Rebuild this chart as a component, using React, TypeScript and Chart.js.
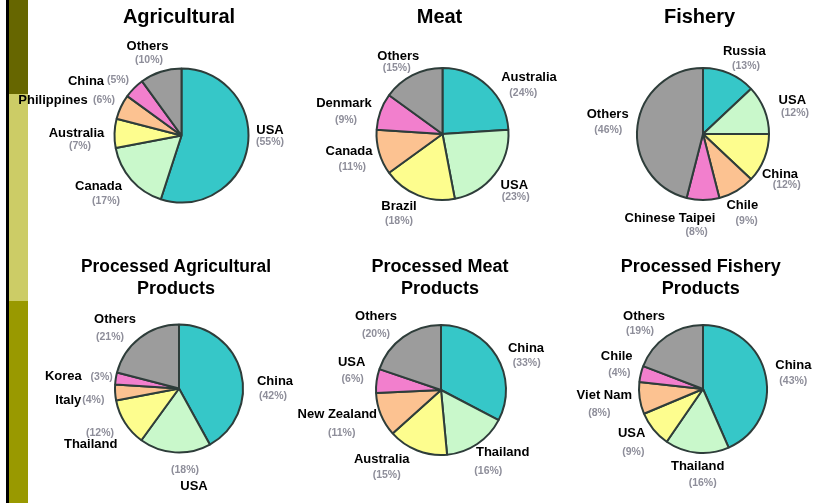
import React, { useEffect, useRef } from "react";
import { Chart, registerables } from "chart.js";

Chart.register(...registerables);

// ---------- data ----------
const agriCategories = ["USA", "Canada", "Australia", "Philippines", "China", "Others"];
const agriValues = [55, 17, 7, 6, 5, 10];

const meatCategories = ["Australia", "USA", "Brazil", "Canada", "Denmark", "Others"];
const meatValues = [24, 23, 18, 11, 9, 15];

const fisheryCategories = ["Russia", "USA", "China", "Chile", "Chinese Taipei", "Others"];
const fisheryValues = [13, 12, 12, 9, 8, 46];

const procAgriCategories = ["China", "USA", "Thailand", "Italy", "Korea", "Others"];
const procAgriValues = [42, 18, 12, 4, 3, 21];

const procMeatCategories = ["China", "Thailand", "Australia", "New Zealand", "USA", "Others"];
const procMeatValues = [33, 16, 15, 11, 6, 20];

const procFisheryCategories = ["China", "Thailand", "USA", "Viet Nam", "Chile", "Others"];
const procFisheryValues = [43, 16, 9, 8, 4, 19];

// ---------- styles / layout ----------
const W = 818;
const H = 503;
const SLICE_COLORS = ["#36c7c8", "#c9f8cb", "#fdfd8e", "#fcc291", "#f27fcd", "#9c9c9c"];
const BORDER = "#2e3d3a";
const FONT = "'Liberation Sans', Arial, sans-serif";

type Off = [number, number, number, number]; // name dx, dy, pct dx, dy (relative to pie centre)

interface Spec {
  title: string[];
  titleSize: number;
  titleX: number;
  titleY: number[];
  titleMaxW?: number;
  categories: string[];
  values: number[];
  cx: number;
  cy: number;
  r: number;
  labels: Off[];
}

const agriLabelLayout: Off[] = [
  [88.5, -5.5, 88.5, 7],
  [-83, 50.5, -75.5, 66],
  [-105, -2.5, -101.5, 11],
  [-128.5, -35.5, -77.5, -35.5],
  [-95.5, -54, -63.5, -55],
  [-34, -89, -32.5, -75.5],
];
const meatLabelLayout: Off[] = [
  [86.5, -56.3, 80.8, -41.3],
  [71.8, 51, 73.2, 62.7],
  [-43.5, 72.7, -43.5, 87],
  [-93.5, 17, -90.2, 32.7],
  [-98.5, -30.7, -96.5, -14],
  [-44.2, -77.3, -45.8, -66.3],
];
const fisheryLabelLayout: Off[] = [
  [41.3, -82.3, 43, -68.3],
  [89.3, -34, 92, -20.7],
  [77, 40, 83.7, 51],
  [39.3, 71, 43.7, 86.7],
  [-33, 84.3, -6.3, 98.3],
  [-95.3, -19.7, -94.7, -4],
];
const procAgriLabelLayout: Off[] = [
  [96, -7.5, 94, 7.5],
  [15, 97.5, 6, 81.5],
  [-88.3, 55.8, -79, 44.8],
  [-110.7, 11.5, -85.7, 11.5],
  [-115.7, -11.8, -77.3, -11.8],
  [-64, -69.2, -69, -51.2],
];
const procMeatLabelLayout: Off[] = [
  [85, -41.3, 85.7, -26.7],
  [61.7, 62.7, 47.3, 81],
  [-59.3, 69.3, -54.3, 85],
  [-103.7, 24, -99.3, 43.3],
  [-89.3, -27.3, -88.3, -10.7],
  [-65, -73.3, -65, -56],
];
const procFisheryLabelLayout: Off[] = [
  [90.3, -24, 90.3, -8.3],
  [-5.3, 77.7, -0.3, 93.7],
  [-71.3, 44.3, -69.7, 62.7],
  [-98.7, 6, -103.7, 23.7],
  [-86.3, -33, -83.7, -15.7],
  [-59, -72.3, -63, -58],
];

const SPECS: Spec[] = [
  { title: ["Agricultural"], titleSize: 20, titleX: 179, titleY: [17], categories: agriCategories, values: agriValues, cx: 181.5, cy: 135.5, r: 67, labels: agriLabelLayout },
  { title: ["Meat"], titleSize: 20, titleX: 439.5, titleY: [17], categories: meatCategories, values: meatValues, cx: 442.5, cy: 134, r: 66, labels: meatLabelLayout },
  { title: ["Fishery"], titleSize: 20, titleX: 699.5, titleY: [17], categories: fisheryCategories, values: fisheryValues, cx: 703, cy: 134, r: 66, labels: fisheryLabelLayout },
  { title: ["Processed Agricultural", "Products"], titleSize: 18, titleX: 176, titleY: [266.7, 289.3], titleMaxW: 190, categories: procAgriCategories, values: procAgriValues, cx: 179, cy: 388.5, r: 64, labels: procAgriLabelLayout },
  { title: ["Processed Meat", "Products"], titleSize: 18, titleX: 440, titleY: [266.7, 289.3], categories: procMeatCategories, values: procMeatValues, cx: 441, cy: 390, r: 65, labels: procMeatLabelLayout },
  { title: ["Processed Fishery", "Products"], titleSize: 18, titleX: 700.7, titleY: [266.7, 289.3], categories: procFisheryCategories, values: procFisheryValues, cx: 703, cy: 389, r: 64, labels: procFisheryLabelLayout },
];

function PieChart({ spec }: { spec: Spec }) {
  const ref = useRef<HTMLCanvasElement>(null);
  useEffect(() => {
    if (!ref.current) return;
    const box = spec.r + 4;
    const labelPlugin = {
      id: "pieLabels",
      afterDraw(chart: any) {
        const ctx = chart.ctx as CanvasRenderingContext2D;
        const arc = chart.getDatasetMeta(0).data[0] as any;
        const cx = arc.x;
        const cy = arc.y;
        ctx.save();
        ctx.textAlign = "center";
        ctx.textBaseline = "middle";
        ctx.fillStyle = "#000";
        ctx.font = `bold ${spec.titleSize}px ${FONT}`;
        spec.title.forEach((t, i) => {
          if (spec.titleMaxW) ctx.fillText(t, spec.titleX, spec.titleY[i], spec.titleMaxW);
          else ctx.fillText(t, spec.titleX, spec.titleY[i]);
        });
        spec.categories.forEach((name, i) => {
          const [ndx, ndy, pdx, pdy] = spec.labels[i];
          ctx.font = `bold 13px ${FONT}`;
          ctx.fillStyle = "#000";
          ctx.fillText(name, cx + ndx, cy + ndy);
          ctx.font = `bold 10.5px ${FONT}`;
          ctx.fillStyle = "#8e8e9a";
          ctx.fillText(`(${spec.values[i]}%)`, cx + pdx, cy + pdy);
        });
        ctx.restore();
      },
    };
    const chart = new Chart(ref.current, {
      type: "pie",
      data: {
        labels: spec.categories,
        datasets: [
          {
            data: spec.values,
            backgroundColor: SLICE_COLORS,
            borderColor: BORDER,
            borderWidth: 2,
            radius: spec.r,
          } as any,
        ],
      },
      options: {
        animation: false,
        responsive: false,
        maintainAspectRatio: false,
        events: [],
        radius: spec.r,
        layout: {
          padding: {
            left: spec.cx - box,
            right: W - spec.cx - box,
            top: spec.cy - box,
            bottom: H - spec.cy - box,
          },
        },
        plugins: {
          legend: { display: false },
          tooltip: { enabled: false },
          title: { display: false },
        },
      } as any,
      plugins: [labelPlugin],
    });
    return () => chart.destroy();
  }, [spec]);
  return (
    <canvas
      ref={ref}
      width={W}
      height={H}
      style={{ position: "absolute", left: 0, top: 0, width: W, height: H }}
    />
  );
}

export default function App() {
  return (
    <div
      style={{
        position: "fixed",
        left: 0,
        top: 0,
        width: W,
        height: H,
        background: "#fff",
        overflow: "hidden",
      }}
    >
      <div style={{ position: "absolute", left: 6, top: 0, width: 2.5, height: H, background: "#000" }} />
      <div style={{ position: "absolute", left: 8.5, top: 0, width: 19, height: 94, background: "#666600" }} />
      <div style={{ position: "absolute", left: 8.5, top: 94, width: 19, height: 207, background: "#cccc66" }} />
      <div style={{ position: "absolute", left: 8.5, top: 301, width: 19, height: H - 301, background: "#999900" }} />
      {SPECS.map((s, i) => (
        <PieChart key={i} spec={s} />
      ))}
    </div>
  );
}
